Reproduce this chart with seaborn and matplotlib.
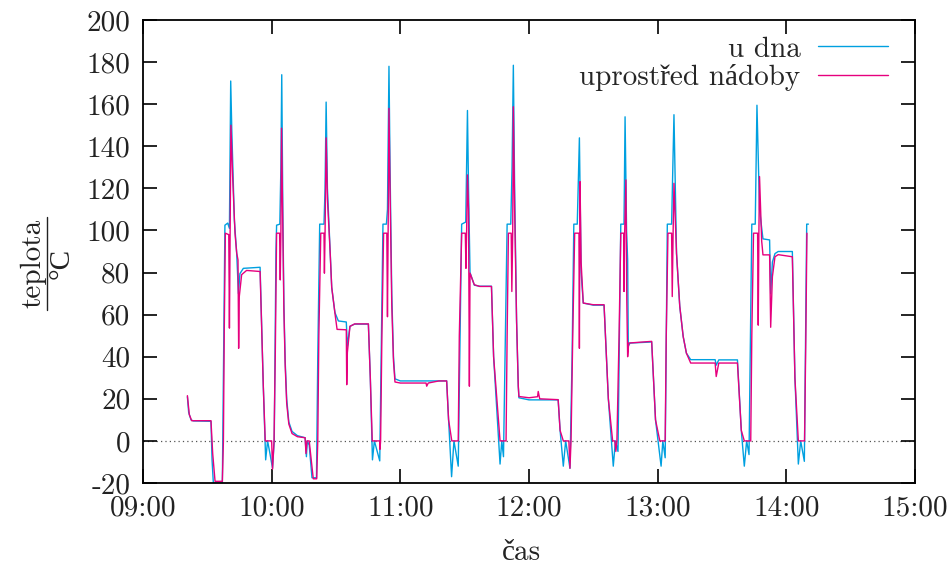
import numpy as np
import pandas as pd
import matplotlib
matplotlib.use("Agg")
import matplotlib.pyplot as plt
from matplotlib.lines import Line2D
import seaborn as sns

# ---- data: minutes after 09:00 and temperature (°C) ----
t_dna = [20.7, 21.3, 22.4, 23.5, 31.7, 32.2, 32.8, 37.0, 37.6, 38.2, 39.5, 40.3, 40.9, 41.4, 42.6, 43.7,
         44.5, 45.2, 46.8, 54.6, 56.1, 57.2, 58.1, 59.2, 60.4, 61.2, 62.0, 62.3,
         63.8, 64.3, 64.7, 65.2, 65.7, 66.3, 67.0, 68.0, 69.5, 72.0, 75.6, 76.2, 76.6, 77.5, 78.8, 80.9,
         81.5, 82.4, 84.4, 84.9, 85.4, 86.0, 87.3, 88.0, 89.5, 91.1, 94.8, 95.3, 96.5, 98.7, 105.1, 106.0,
         107.0, 107.9, 110.4, 111.2, 111.9,
         113.5, 114.0, 114.7, 115.2, 116.0, 116.8, 117.5, 120.0, 141.6, 142.5, 143.9, 145.0, 147.0, 148.6,
         150.5, 151.3, 151.8, 152.5, 154.5, 157.0, 162.5, 163.5, 166.5, 167.3, 168.1, 169.8, 171.5, 172.1,
         172.7, 173.3, 174.2, 175.0, 175.3, 180.0, 193.6, 194.5, 196.0, 197.1, 199.1, 200.1, 200.9, 202.5,
         203.5, 204.3, 205.3, 210.0, 215.0, 217.0, 219.3, 220.3, 221.5, 222.8, 224.3, 224.8, 225.5, 226.0,
         226.3, 227.1, 237.2, 239.0, 241.6, 242.4, 243.5, 244.5, 246.5, 247.6, 248.8, 250.3, 251.9, 253.4,
         255.4, 266.8, 267.3, 268.5, 277.2, 279.0, 280.4, 281.5, 282.6, 283.9, 285.5, 286.3, 287.5, 289.1,
         292.2, 292.7, 293.5, 294.7, 296.2, 302.8, 304.0, 305.6, 306.7, 308.4, 309.5, 310.3]
v_dna = [21, 13.5, 10, 9.5, 9.3, -9, -20, -20, 42, 102.5, 103.5, 101, 171, 148, 105, 89,
         70, 79.5, 82, 82.5, 26, -9, 0, -6, -13, 0, 90, 102.5,
         103, 130, 174, 110, 65, 38, 20, 9, 4.5, 2.5, 1.5, -7.5, 0, -2, -17.5, -17.5,
         40, 103, 103, 120, 161, 120, 89, 73, 61, 57, 56.5, 45, 54.5, 55.5, 55.5, 30,
         -9, 0, -9.5, 50, 103,
         103, 110, 178, 130, 70, 40, 29.5, 28.5, 28.5, 10, -17, 0, -12, 103,
         104, 157, 120, 80, 74, 73.5, 73.5, 40, -11, 0, -7.5, 103, 103, 130,
         178.5, 120, 57, 26, 20.5, 19.5, 19.5, 5, -12, 0, -13, 40, 103, 103,
         144, 80, 65.5, 64.5, 64.5, 20, -12, 0, -5, 103, 103, 154, 100, 86,
         45, 46.5, 47, 10, -12, 0, -8, 103, 103, 155, 89, 64, 49.6, 41.7,
         38.6, 38.6, 36, 38.5, 38.5, 5, -12, 0, -6.5, 103, 103, 159.5, 110, 96,
         95.5, 70, 85, 89, 90, 90, 30, -11, 0, -9.7, 103, 103]

t_stred = [20.7, 21.6, 22.7, 31.7, 32.5, 33.6, 37.0, 37.5, 37.9, 38.4, 40.0, 40.3, 40.6, 41.0, 41.8, 42.9,
           43.7, 44.3, 44.6, 44.9, 46.0, 48.3, 54.6, 56.1, 57.0, 60.0, 60.4, 61.1, 61.7, 62.3,
           63.7, 64.0, 64.3, 64.6, 65.1, 65.7, 66.3, 67.0, 68.0, 69.5, 72.0, 75.6, 76.0, 76.5, 77.5, 79.4,
           81.0, 81.5, 82.0, 82.9, 84.4, 84.6, 84.9, 85.4, 86.0, 87.3, 88.0, 89.5, 90.5, 94.8, 95.0, 95.3,
           96.5, 98.7, 105.1, 106.0, 106.9, 110.4, 110.5, 110.8, 111.4, 112.2,
           113.7, 114.0, 114.3, 114.7, 115.2, 116.0, 116.8, 117.5, 120.0, 132.0, 132.3, 133.0, 138.0, 141.6,
           142.5, 144.0, 147.0, 147.5, 148.6, 150.3, 150.6, 150.9, 151.3, 151.8, 152.2, 152.5, 154.5, 157.0,
           162.5, 163.5, 166.5, 169.3, 169.8, 170.4, 171.7, 172.0, 172.4, 172.7, 173.3, 174.2, 175.0, 175.3,
           180.0, 184.0, 184.3, 185.0, 193.6, 194.5, 196.0, 198.6, 199.1, 199.6, 200.4, 201.3, 203.3, 203.5,
           203.7, 203.8, 204.3, 205.3, 210.0, 215.0, 217.0, 219.0, 220.0, 220.5, 221.0, 222.0, 222.8, 224.2,
           224.3, 224.6, 225.2, 225.6, 226.0, 226.5, 237.2, 239.0, 241.0, 243.5, 244.0, 244.8, 246.5, 246.8,
           247.2, 247.6, 248.8, 250.3, 251.9, 253.4, 255.4, 266.8, 267.3, 268.5, 277.2, 279.0, 280.4, 283.4,
           283.9, 284.7, 286.6, 286.9, 287.2, 287.5, 288.5, 289.1, 292.2, 292.7, 293.5, 294.7, 296.2, 302.8,
           304.0, 305.6, 308.5, 309.1, 309.6]
v_stred = [21.5, 12.5, 9.6, 9.6, -6, -19.2, -19.2, 0, 53, 98.7, 98, 53.6, 98, 150, 125.6, 98.7,
           89.2, 86, 44, 68.6, 79, 81, 80.5, 26, 0, 0, -13.4, 0, 42, 98.7,
           98.7, 76.5, 98.7, 148.6, 110, 62, 36, 18, 8, 3.5, 2, 1.5, -6, 0, 0, -18,
           -18, 0, 50, 98.7, 98.7, 79.7, 98.7, 144, 115, 89, 73, 60.7, 53, 52.8, 26.7, 42,
           54.4, 55.6, 55.6, 30, 0, 0, -4, 0, 50, 98.7,
           98.7, 59, 98, 158, 120, 65, 38, 28, 27.5, 27.5, 26, 27.5, 28.5, 28.5,
           10, 0, 0, 50, 98.7, 98.7, 82, 98.7, 126.4, 110, 26, 79.7, 74.2, 73.4,
           73.4, 40, 0, 0, 50, 98.7, 98.7, 71, 98.7, 158.8, 110, 57.5, 26, 21.1,
           20.5, 21, 23.5, 20, 19.6, 5, 0, 0, -13, 0, 50, 98.7, 98.7, 44,
           98, 123.2, 85, 65.5, 64.7, 64.7, 20, 0, 0, -5, 0, 50, 98.7, 98.7,
           71, 98.7, 124, 67, 40, 46.5, 47.3, 10, 0, 0, 50, 98.7, 98.7, 68.6,
           98.7, 122.4, 89, 64, 49.6, 41.7, 37, 37, 30.6, 37, 37, 5, 0, 0,
           50, 98.7, 98.7, 55, 98.7, 125.6, 95, 88.4, 88.4, 54, 78, 87.5, 88.5, 87.5,
           30, 0, 0, 50, 98.7]

series_names = ["u dna", "uprostřed nádoby"]
series_colors = ["#00a0e0", "#e6007e"]
y_ticks = [-20, 0, 20, 40, 60, 80, 100, 120, 140, 160, 180, 200]
x_tick_labels = ["09:00", "10:00", "11:00", "12:00", "13:00", "14:00", "15:00"]

base = pd.Timestamp("2000-01-01 09:00")
df = pd.concat([
    pd.DataFrame({"cas": base + pd.to_timedelta(t_dna, unit="m"), "teplota": v_dna, "serie": series_names[0]}),
    pd.DataFrame({"cas": base + pd.to_timedelta(t_stred, unit="m"), "teplota": v_stred, "serie": series_names[1]}),
], ignore_index=True)

sns.set_theme(style="ticks")
plt.rcParams["font.family"] = ["cmr10", "Liberation Serif"]
plt.rcParams["axes.unicode_minus"] = False
plt.rcParams["axes.formatter.use_mathtext"] = True

W, H = 953, 572
fig = plt.figure(figsize=(W / 100, H / 100), dpi=100)
ax = fig.add_axes([143 / W, 1 - 483 / H, 772 / W, 463 / H])

sns.lineplot(data=df, x="cas", y="teplota", hue="serie", palette=dict(zip(series_names, series_colors)),
             estimator=None, sort=False, linewidth=1.0, ax=ax)

ax.axhline(0, color="#555555", lw=0.9, ls=(0, (1, 2.5)), zorder=0)

ax.set_xlim(base, base + pd.Timedelta(hours=6))
ax.set_ylim(-20, 200)
xt = [base + pd.Timedelta(hours=i) for i in range(len(x_tick_labels))]
ax.set_xticks(xt)
ax.set_xticklabels(x_tick_labels)
ax.set_yticks(y_ticks)
ax.set_yticklabels([str(v) for v in y_ticks])
ax.tick_params(direction="in", length=10, width=1.2, top=True, right=True,
               labelsize=21, pad=9, color="black", labelcolor="#222222")
for s in ax.spines.values():
    s.set_linewidth(1.3)
    s.set_color("black")
ax.set_xlabel("")
ax.set_ylabel("")

handles, labels = ax.get_legend_handles_labels()
ax.legend(handles, labels, loc="upper right", bbox_to_anchor=(0.965, 0.965), markerfirst=False,
          frameon=False, fontsize=21, handlelength=2.4, handletextpad=0.6, labelspacing=0.05,
          borderpad=0, borderaxespad=0)

# x label
fig.text(521 / W, 1 - 553 / H, "čas", ha="center", va="center", fontsize=21, color="#222222")
# y label as a fraction  teplota / °C
fig.text(33 / W, 1 - 263 / H, "teplota", rotation=90, ha="center", va="center", fontsize=21, color="#222222")
fig.text(62 / W, 1 - 263 / H, "°C", rotation=90, ha="center", va="center", fontsize=21, color="#222222",
         family=["Liberation Serif", "DejaVu Serif"])
fig.add_artist(Line2D([47 / W, 47 / W], [1 - 217 / H, 1 - 310 / H], transform=fig.transFigure,
                      color="#222222", lw=1.0))

fig.savefig("out.png", dpi=100)
